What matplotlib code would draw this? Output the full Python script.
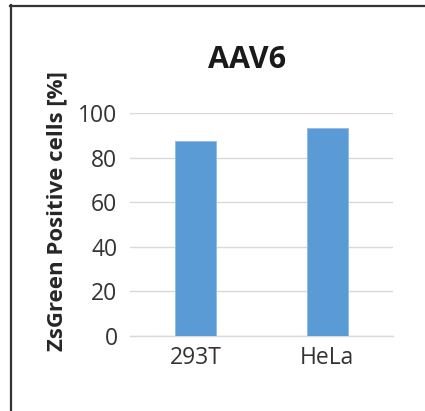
import matplotlib
matplotlib.use("Agg")
import matplotlib.pyplot as plt
from matplotlib.lines import Line2D

categories = ["293T", "HeLa"]
values = [87.3, 93.3]
yticks = [0, 20, 40, 60, 80, 100]
title = "AAV6"
ylabel = "ZsGreen Positive cells [%]"

plt.rcParams['font.family'] = ['Open Sans', 'DejaVu Sans']

W, H = 425, 411
fig = plt.figure(figsize=(W / 100, H / 100), dpi=100)
ax = fig.add_axes([130 / W, 1 - 336 / H, (393 - 130) / W, (336 - 113) / H])

x = range(len(categories))
ax.bar(x, values, width=0.31, color="#5B9BD5", edgecolor="#8DBBE6", linewidth=0.6, zorder=3)

ax.set_xlim(-0.5, len(categories) - 0.5)
ax.set_ylim(0, 100)
ax.set_yticks(yticks)
ax.set_xticks(list(x))
ax.set_xticklabels(categories)
ax.yaxis.grid(True, color="#D9D9D9", linewidth=1.0, zorder=0)
for side in ["top", "right", "left"]:
    ax.spines[side].set_visible(False)
ax.spines["bottom"].set_color("#D9D9D9")
ax.spines["bottom"].set_linewidth(1.0)
ax.tick_params(axis="both", length=0, labelsize=16.5, colors="#333333")
ax.tick_params(axis="y", pad=9)
ax.tick_params(axis="x", pad=7)

fig.text(57 / W, 1 - 211 / H, ylabel, rotation=90, ha="center", va="center",
         fontsize=16, fontweight="bold", color="#262626")
fig.text(247 / W, 1 - 60 / H, title, ha="center", va="center",
         fontsize=22, fontweight="bold", color="#1a1a1a")

# outer frame: top and left edges
fig.add_artist(Line2D([10 / W, 1], [1 - 6 / H, 1 - 6 / H], transform=fig.transFigure,
                      color="#333333", linewidth=1.6))
fig.add_artist(Line2D([11 / W, 11 / W], [0, 1 - 5 / H], transform=fig.transFigure,
                      color="#333333", linewidth=1.6))

fig.savefig("out.png", dpi=100)
